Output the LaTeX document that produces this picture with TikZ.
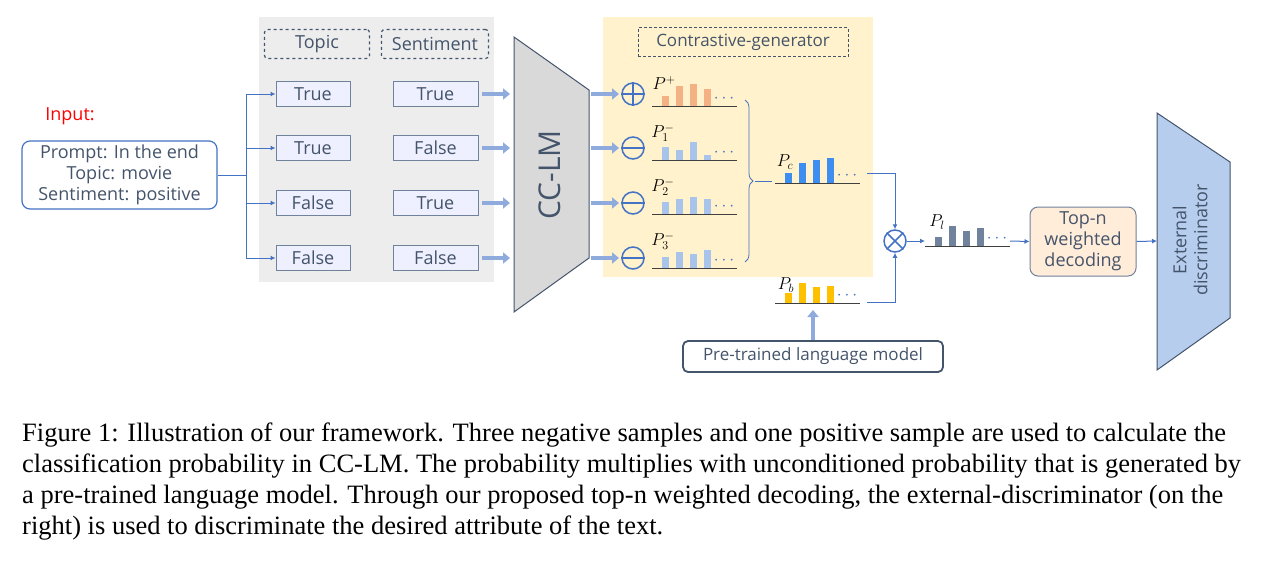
\documentclass[tikz,border=0pt]{standalone}
\usepackage{fontspec}
\setmainfont{Liberation Serif}
\newfontfamily\osf{Open Sans}
\usetikzlibrary{arrows.meta,decorations.pathreplacing}
\definecolor{ln}{HTML}{4472C4}
\definecolor{dk}{HTML}{44546A}
\definecolor{thk}{HTML}{8FAADC}
\definecolor{yel}{HTML}{FFF2CC}
\definecolor{gr}{HTML}{EDEDED}
\definecolor{bx}{HTML}{EEF0FF}
\definecolor{org}{HTML}{F4B183}
\definecolor{lb}{HTML}{A9C4EB}
\definecolor{mb}{HTML}{3D8EF0}
\definecolor{gb}{HTML}{71829C}
\definecolor{gold}{HTML}{FFC000}
\begin{document}
\begin{tikzpicture}[x=1pt,y=-1pt,
 every node/.style={font=\osf\fontsize{18}{20}\selectfont,text=dk},
 tf/.style={draw=gb,fill=bx,line width=1pt,minimum width=74pt,minimum height=25pt,inner sep=0pt},
 dsh/.style={draw=dk,dashed,line width=1.2pt,rounded corners=3pt,minimum height=29pt,inner sep=0pt},
 thin/.style={draw=ln,line width=1pt,-{Latex[length=5pt,width=5pt]}},
 thick/.style={draw=thk,line width=4pt,-{Triangle[length=7pt,width=11pt]}},
 circ/.style={circle,draw=ln,line width=1.5pt,minimum size=22pt,inner sep=0pt},
 lab/.style={text=black,font=\fontsize{17}{17}\selectfont,inner sep=0pt}]
\useasboundingbox (0,0) rectangle (1265,573);
% backgrounds
\fill[gr] (259,17) rectangle (494,282);
\fill[yel] (603,17) rectangle (873,277);
\node[dsh,minimum width=105pt] (tp) at (317,44) {Topic};
\node[dsh,minimum width=107pt] (st) at (435,44) {Sentiment};
\node[draw=dk,densely dashed,line width=0.6pt,minimum width=210pt,minimum height=29pt,inner sep=0pt,font=\osf\fontsize{17}{19}\selectfont] (cg) at (743,42) {Contrastive-generator};
\node[text=red] (inl) at (70,116) {Input:};
\node[draw=ln,line width=1.2pt,rounded corners=8pt,minimum width=195pt,minimum height=68pt,align=center,inner sep=0pt,font=\osf\fontsize{18}{21}\selectfont] (in) at (119.5,175) {Prompt: In the end\\Topic: movie\\Sentiment: positive};
\coordinate (br) at (246,175);
\draw[ln,line width=1pt] (in.east) -- (br);
\foreach \i/\y/\a/\b in {1/94/True/True,2/148/True/False,3/203/False/True,4/258/False/False}{
 \node[tf] (a\i) at (313,\y) {\a};
 \node[tf,minimum width=85pt] (b\i) at (435.5,\y) {\b};
 \coordinate (t\i) at (246,\y);
 \draw[thin] (t\i) -- (a\i.west);
 \coordinate (s\i) at (482,\y); \coordinate (e\i) at (510,\y);
 \draw[thick] (s\i) -- (e\i);
 \coordinate (s2\i) at (591,\y); \coordinate (e2\i) at (619,\y);
 \draw[thick] (s2\i) -- (e2\i);
}
\draw[ln,line width=1pt] (t1) -- (t4);
% CC-LM
\draw[dk,fill=gray!30,line width=1pt] (514,37) -- (589,90) -- (589,258) -- (514,312) -- cycle;
\node[rotate=90,font=\osf\fontsize{30}{32}\selectfont] (cc) at (550,175) {CC-LM};
% circles
\node[circ] (c1) at (633,94) {};
\draw[ln,line width=1.5pt] (c1.west)--(c1.east) (c1.north)--(c1.south);
\foreach \i/\y in {2/148,3/203,4/258}{\node[circ] (c\i) at (633,\y) {}; \draw[ln,line width=1.5pt] (c\i.west)--(c\i.east);}
% bar chart macro
\newcommand{\mychart}[7]{% x0 ybase color h1 h2 h3 h4
 \foreach \k/\h in {0/#4,1/#5,2/#6,3/#7}{\fill[#3] ({#1+10+\k*14},#2) rectangle ({#1+17+\k*14},{#2-\h});}
 \draw[black!75,line width=1pt] (#1,#2) -- ({#1+85},#2);
 \node[text=ln,font=\fontsize{18}{18}\selectfont,inner sep=0pt] at ({#1+72},{#2-7}) {$\cdots$};
}
\mychart{652}{106}{org}{10}{20}{22}{17}
\mychart{652}{160}{lb}{13}{10}{18}{5}
\mychart{652}{214}{lb}{12}{15}{17}{15}
\mychart{652}{268}{lb}{11}{16}{14}{18}
\mychart{775}{183}{mb}{10}{20}{23}{25}
\mychart{775}{303}{gold}{10}{20}{16}{17}
\mychart{925}{246}{gb}{9}{20}{15}{18}
\node[lab] (pp) at (664,83) {$P^{+}$};
\node[lab] (p1) at (663,133) {$P_1^{-}$};
\node[lab] (p2) at (663,187) {$P_2^{-}$};
\node[lab] (p3) at (663,241) {$P_3^{-}$};
\node[lab] (pc) at (785,162) {$P_c$};
\node[lab] (pb) at (786,285) {$P_b$};
\node[lab] (pl) at (937,222) {$P_l$};
\draw[ln,line width=0.8pt,decorate,decoration={brace,amplitude=8pt}] (745,100) -- (745,262);
\coordinate (bt) at (755,181); \coordinate (bt2) at (772,181);
\draw[ln,line width=0.8pt] (bt) -- (bt2);
% otimes
\node[circ] (ot) at (895,241) {};
\draw[ln,line width=1.5pt] (ot.45)--(ot.225) (ot.135)--(ot.315);
\coordinate (pcr) at (867,173); \coordinate (pcc) at (895,173);
\coordinate (pbr) at (867,302); \coordinate (pbc) at (895,302);
\draw[thin] (pcr) -- (pcc) -- (ot.north);
\draw[thin] (pbr) -- (pbc) -- (ot.south);
\coordinate (plf) at (925,241);
\draw[thin] (ot.east) -- (plf);
% pretrained
\node[draw=dk,line width=1.8pt,rounded corners=5pt,minimum width=260pt,minimum height=31pt,inner sep=0pt,font=\osf\fontsize{17}{19}\selectfont] (pt) at (813,356.5) {Pre-trained language model};
\coordinate (pbu) at (813,310);
\draw[thick] (pt.north) -- (pbu);
% top-n
\node[draw=gb,fill=orange!15,line width=1pt,rounded corners=8pt,minimum width=106pt,minimum height=69pt,align=center,inner sep=0pt,font=\osf\fontsize{18}{21}\selectfont] (tn) at (1083,241.5) {Top-n\\weighted\\decoding};
\coordinate (plr) at (1010,241);
\draw[thin] (plr) -- (tn.west);
% external
\draw[dk,fill=lb!85,line width=1pt] (1157,113) -- (1230,162) -- (1230,318) -- (1157,370) -- cycle;
\node[rotate=90,align=center,font=\osf\fontsize{18}{21}\selectfont] (ed) at (1190,240) {External\\discriminator};
\coordinate (edl) at (1157,241);
\draw[thin] (tn.east) -- (edl);
% caption
\begin{scope}[every node/.style={anchor=west,inner sep=0pt,text=black,font=\fontsize{26.5}{28}\selectfont}]
\node (l1) at (22,435) {Figure 1: Illustration of our framework. Three negative samples and one positive sample are used to calculate the};
\node (l2) at (22,466) {classification probability in CC-LM. The probability multiplies with unconditioned probability that is generated by};
\node (l3) at (22,497) {a pre-trained language model. Through our proposed top-n weighted decoding, the external-discriminator (on the};
\node (l4) at (22,528) {right) is used to discriminate the desired attribute of the text.};
\end{scope}
\end{tikzpicture}
\end{document}
